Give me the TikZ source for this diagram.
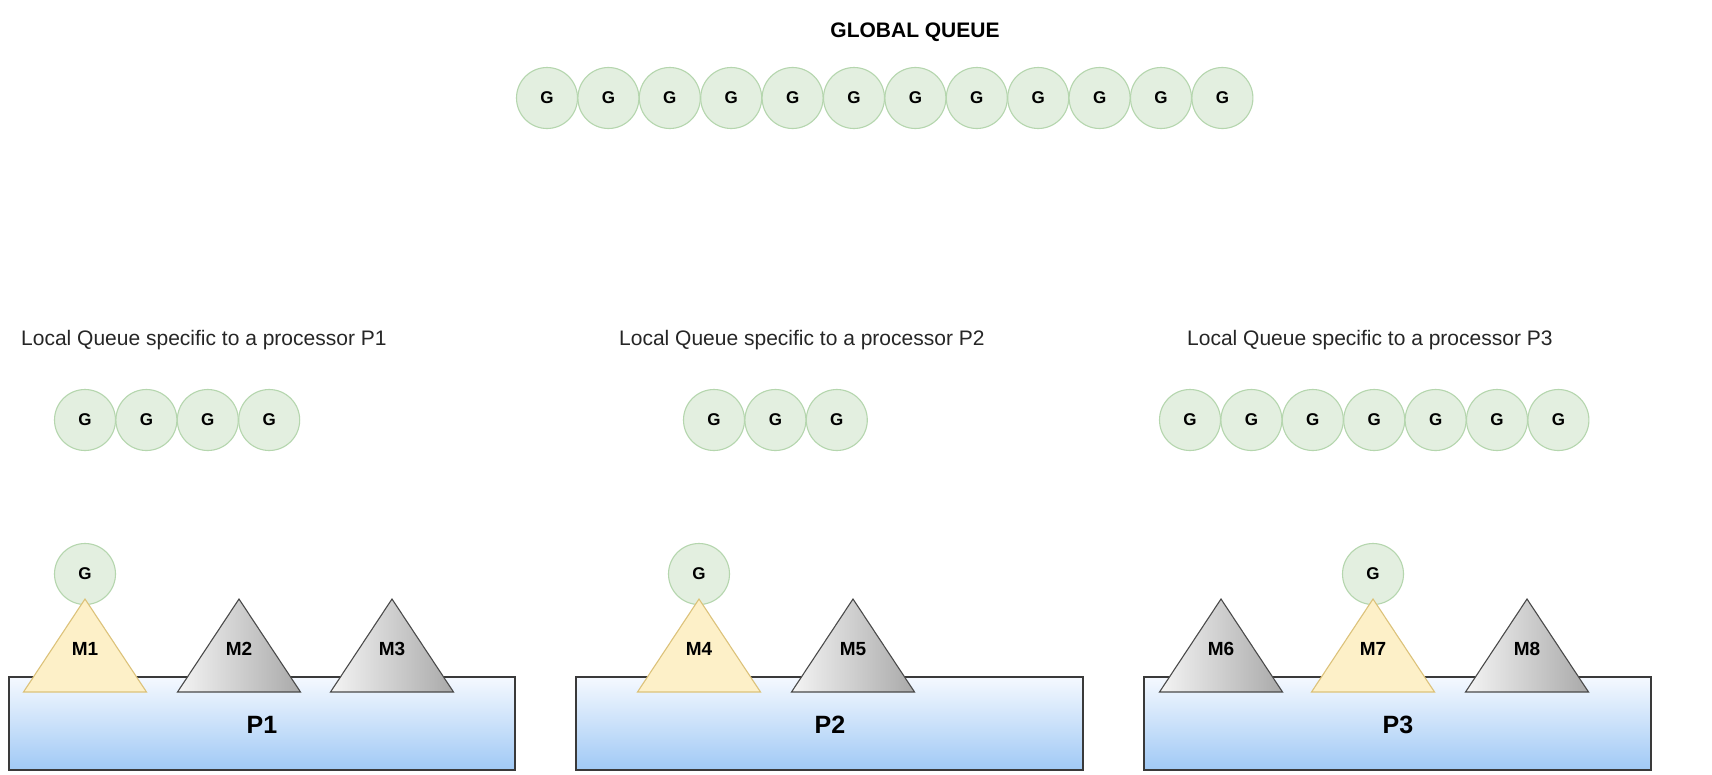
\documentclass[tikz,border=0pt]{standalone}
\usepackage{fontspec}
\setmainfont{Liberation Sans}
\definecolor{gfill}{HTML}{E3EFE0}
\definecolor{gline}{HTML}{B5D6AE}
\definecolor{yfill}{HTML}{FDF0C8}
\definecolor{yline}{HTML}{DCC27A}
\definecolor{grayL}{HTML}{F4F4F4}
\definecolor{grayR}{HTML}{A9A9A9}
\definecolor{grayline}{HTML}{4A4A4A}
\definecolor{blueT}{HTML}{F5F9FF}
\definecolor{blueB}{HTML}{A0C9F5}
\definecolor{boxline}{HTML}{3A3A3A}
\newcommand\mtri[4]{%
  \path[#3] (#2-61.5,692) -- (#2,599) -- (#2+61.5,692) -- cycle;
  \node[mlabel] (#1) at (#2,649) {#4};}
\begin{document}
\begin{tikzpicture}[x=1pt,y=-1pt,
  gnode/.style={circle, draw=gline, fill=gfill, line width=1.1pt, minimum size=61pt, inner sep=0pt, font=\fontsize{17}{17}\selectfont\bfseries},
  mlabel/.style={font=\fontsize{19}{19}\selectfont\bfseries, inner sep=0pt},
  plabel/.style={font=\fontsize{25}{25}\selectfont\bfseries, inner sep=0pt},
  qlabel/.style={font=\fontsize{21}{21}\selectfont, text=black!85, inner sep=0pt},
  ptri/.style={draw=grayline, line width=1.1pt, left color=grayL, right color=grayR},
  ytri/.style={draw=yline, line width=1.1pt, fill=yfill},
  pbox/.style={draw=boxline, line width=1.1pt, top color=blueT, bottom color=blueB}]
\useasboundingbox[fill=white] (0,0) rectangle (1712,774);

% global queue
\node[font=\fontsize{21}{21}\selectfont\bfseries, inner sep=0pt] (gtitle) at (915,32) {GLOBAL QUEUE};
\foreach \i in {0,...,11} \node[gnode] (gq\i) at ({547+61.4*\i},98) {G};

% local queue labels
\node[qlabel, anchor=west] (lq1) at (21,340) {Local Queue specific to a processor P1};
\node[qlabel, anchor=west] (lq2) at (619,340) {Local Queue specific to a processor P2};
\node[qlabel, anchor=west] (lq3) at (1187,340) {Local Queue specific to a processor P3};

% local queues
\foreach \i in {0,...,3} \node[gnode] (la\i) at ({85+61.4*\i},420) {G};
\foreach \i in {0,...,2} \node[gnode] (lb\i) at ({714+61.4*\i},420) {G};
\foreach \i in {0,...,6} \node[gnode] (lc\i) at ({1190+61.4*\i},420) {G};

% processors
\path[pbox] (9,677) rectangle (515,770);
\node[plabel] (p1) at (262,725) {P1};
\path[pbox] (576,677) rectangle (1083,770);
\node[plabel] (p2) at (830,725) {P2};
\path[pbox] (1144,677) rectangle (1651,770);
\node[plabel] (p3) at (1398,725) {P3};

% running goroutines
\node[gnode] (r1) at (85,574) {G};
\node[gnode] (r2) at (699,574) {G};
\node[gnode] (r3) at (1373,574) {G};

% machines
\mtri{m1}{85}{ytri}{M1}
\mtri{m2}{239}{ptri}{M2}
\mtri{m3}{392}{ptri}{M3}
\mtri{m4}{699}{ytri}{M4}
\mtri{m5}{853}{ptri}{M5}
\mtri{m6}{1221}{ptri}{M6}
\mtri{m7}{1373}{ytri}{M7}
\mtri{m8}{1527}{ptri}{M8}
\end{tikzpicture}
\end{document}
